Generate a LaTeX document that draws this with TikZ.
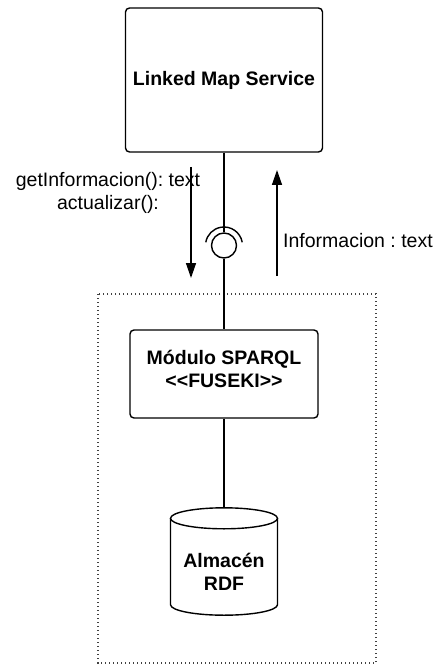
\documentclass[tikz,border=0pt]{standalone}
\usepackage{fontspec}
\setmainfont{Liberation Sans}
\frenchspacing
\usetikzlibrary{arrows.meta,calc}
\tikzset{
  comp/.style={draw=black, line width=1.4pt, rounded corners=4pt, fill=white, inner sep=0pt, align=center, font=\fontsize{19.5}{23.5}\selectfont\bfseries},
  lbl/.style={inner sep=0pt, align=center, font=\fontsize{19.5}{23.5}\selectfont},
  conn/.style={draw=black, line width=1.4pt},
  flow/.style={draw=black, line width=1.4pt, -{Triangle[length=15pt,width=10pt]}},
  frame/.style={draw=black!75, line width=1.3pt, dash pattern=on 1.3pt off 2.7pt},
  cyl/.style={draw=black, line width=1.4pt}
}
\begin{document}
\begin{tikzpicture}[x=1pt,y=-1pt]
\useasboundingbox (0,0) rectangle (435,668);
% container
\draw[frame] (98,294) rectangle (376,663);
% components
\node[comp, minimum width=197pt, minimum height=144pt] (lms) at (224,80) {Linked Map Service};
\node[comp, minimum width=188pt, minimum height=88pt] (mod) at (224,374) {};
\node[lbl, font=\fontsize{19.5}{23.5}\selectfont\bfseries] (modtxt) at (224,369) {Módulo SPARQL\\<{}<FUSEKI>{}>};
% interface (ball and socket)
\node[draw=black, line width=1.4pt, circle, minimum size=25pt, inner sep=0pt] (ball) at (224,245.5) {};
\draw[conn] (lms.south) -- (ball.north);
\draw[conn] (ball.south) -- (mod.north);
\draw[conn] ($(ball.center)+(10:18.5pt)$) arc[start angle=10,end angle=170,radius=18.5pt];
% database
\node[minimum width=107pt, minimum height=107pt, inner sep=0pt] (rdf) at (224,561.5) {};
\draw[cyl, fill=white] ($(rdf.north)+(-53.5,10.5)$) -- ($(rdf.south)+(-53.5,-10.5)$)
  arc[start angle=180,end angle=360,x radius=53.5pt,y radius=10.5pt]
  -- ($(rdf.north)+(53.5,10.5)$);
\draw[cyl, fill=white] ($(rdf.north)+(0,10.5)$) ellipse [x radius=53.5pt, y radius=10.5pt];
\node[lbl, font=\fontsize{19.5}{23.5}\selectfont\bfseries] (rdftxt) at (224,572) {Almacén\\RDF};
\draw[conn] (mod.south) -- (rdf.north);
% message arrows
\coordinate (d1) at (191,167);
\coordinate (d2) at (191,278);
\coordinate (u1) at (277,276);
\coordinate (u2) at (277,170);
\draw[flow] (d1) -- (d2);
\draw[flow] (u1) -- (u2);
\node[lbl] (req) at (108,193) {getInformacion(): text\\actualizar():};
\node[lbl, anchor=west] (resp) at (283,241) {Informacion : text};
\end{tikzpicture}
\end{document}
